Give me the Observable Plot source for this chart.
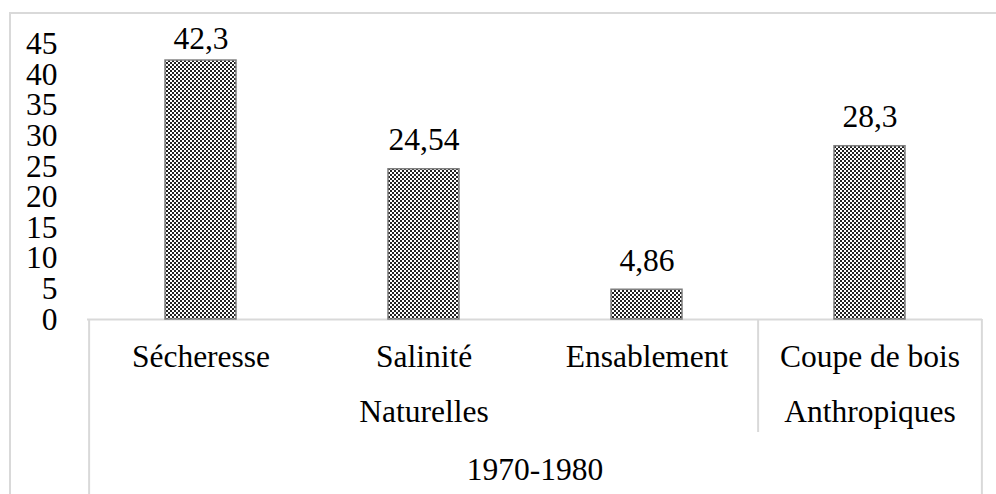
<!DOCTYPE html>
<html><head><meta charset="utf-8">
<script src="https://cdn.jsdelivr.net/npm/d3@7"></script>
<script src="https://cdn.jsdelivr.net/npm/@observablehq/plot@0.6"></script>
<style>
body{margin:0;background:#fff}
#wrap{position:relative;width:996px;height:494px;overflow:hidden;background:#fff}
#wrap svg{position:absolute;left:0;top:0;font-family:"Liberation Serif","Times New Roman",serif !important}
#wrap svg text{font-family:"Liberation Serif","Times New Roman",serif !important}
#border{position:absolute;left:9px;top:12px;width:2000px;height:2000px;border-left:2px solid #d9d9d9;border-top:2px solid #d9d9d9;pointer-events:none}
</style>
</head><body>
<div id="wrap"></div>
<script>
// ---- data ----
const categories = ["Sécheresse", "Salinité", "Ensablement", "Coupe de bois"];
const values = [42.3, 24.54, 4.86, 28.3];
const valueLabels = ["42,3", "24,54", "4,86", "28,3"];
const groups = ["Naturelles", "Anthropiques"];
const groupMiddles = ["Salinité", "Coupe de bois"]; // middle category of each group
const period = ["1970-1980"];
const yTicks = [0, 5, 10, 15, 20, 25, 30, 35, 40, 45];

const rows = categories.map((c, i) => ({category: c, value: values[i], label: valueLabels[i]}));

// ---- layout ----
const W = 996, H = 494;
const mL = 87, mR = 14, mT = 43.5, mB = 175;
const half = (W - mL - mR) / categories.length / 2;
const font = "Liberation Serif";
const fs = 31.5;
const sep = "#d9d9d9";
// data labels sit above the bar, but are kept inside the plot area (as in the spreadsheet)
const labelLift = 4.75, labelMax = 45.9;

const plot = Plot.plot({
  width: W, height: H,
  marginLeft: mL, marginRight: mR, marginTop: mT, marginBottom: mB,
  style: {fontFamily: font, fontSize: fs + "px", color: "#000", background: "transparent", overflow: "visible"},
  x: {type: "band", domain: categories, padding: 0, axis: null},
  y: {domain: [0, 45], axis: null},
  marks: [
    Plot.axisY({ticks: yTicks, tickSize: 0, tickPadding: 30, fontSize: fs, fontFamily: font, label: null, tickFormat: d => String(d)}),
    Plot.ruleY([0], {stroke: sep, strokeWidth: 2}),
    // table separators below the axis
    Plot.axisX({ticks: [categories[0]], tickSize: 175, dx: -half, stroke: sep, strokeWidth: 2, strokeOpacity: 1, tickFormat: () => "", label: null}),
    Plot.axisX({ticks: [categories[3]], tickSize: 113, dx: -half, stroke: sep, strokeWidth: 2, strokeOpacity: 1, tickFormat: () => "", label: null}),
    Plot.axisX({ticks: [categories[3]], tickSize: 175, dx: half, stroke: sep, strokeWidth: 2, strokeOpacity: 1, tickFormat: () => "", label: null}),
    Plot.barY(rows, {x: "category", y: "value", fill: "url(#chk)", stroke: "#7f7f7f", strokeWidth: 1.5, insetLeft: 76, insetRight: 76}),
    Plot.text(rows, {x: "category", y: d => Math.min(d.value + labelLift, labelMax), text: "label", fontSize: fs, fontFamily: font, lineAnchor: "middle", fill: "#000"}),
    Plot.text(categories, {x: d => d, text: d => d, frameAnchor: "bottom", dy: 37, fontSize: fs, fontFamily: font, lineAnchor: "middle", fill: "#000"}),
    Plot.text(groups, {x: (d, i) => groupMiddles[i], text: d => d, frameAnchor: "bottom", dy: 92, fontSize: fs, fontFamily: font, lineAnchor: "middle", fill: "#000"}),
    Plot.text(period, {text: d => d, frameAnchor: "bottom", dy: 150, fontSize: fs, fontFamily: font, lineAnchor: "middle", fill: "#000"})
  ]
});

// checkered pattern
const svg = d3.select(plot);
const defs = svg.insert("defs", ":first-child");
const pat = defs.append("pattern").attr("id", "chk").attr("patternUnits", "userSpaceOnUse").attr("width", 4).attr("height", 4);
pat.append("rect").attr("width", 4).attr("height", 4).attr("fill", "#fff");
pat.append("rect").attr("width", 2).attr("height", 2).attr("fill", "#222");
pat.append("rect").attr("x", 2).attr("y", 2).attr("width", 2).attr("height", 2).attr("fill", "#222");

const wrap = document.getElementById("wrap");
wrap.appendChild(plot);
const b = document.createElement("div");
b.id = "border";
wrap.appendChild(b);
</script>
</body></html>
